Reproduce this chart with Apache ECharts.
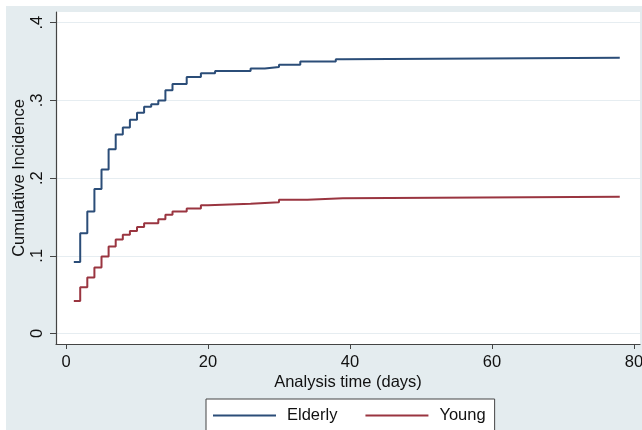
<!DOCTYPE html>
<html>
<head>
<meta charset="utf-8">
<script src="https://cdn.jsdelivr.net/npm/echarts@6/dist/echarts.min.js"></script>
<style>
html, body { margin: 0; padding: 0; background: #fff; }
#main { width: 642px; height: 430px; }
</style>
</head>
<body>
<div id="main"></div>
<script>
// step times (days) and cumulative incidence
var elderlyDays = [1.1, 2, 3, 4, 5, 6, 7, 8, 9, 10, 11, 12, 13, 14, 15, 17, 19, 21, 26, 28, 30, 33, 38, 39, 78];
var elderlyVals = [0.092, 0.129, 0.157, 0.186, 0.211, 0.237, 0.256, 0.265, 0.275, 0.284, 0.292, 0.295, 0.300, 0.313, 0.321, 0.330, 0.335, 0.338, 0.341, 0.343, 0.346, 0.350, 0.353, 0.355, 0.355];
var youngDays = [1.1, 2, 3, 4, 5, 6, 7, 8, 9, 10, 11, 13, 14, 15, 17, 19, 20, 26, 30, 34, 39, 78];
var youngVals = [0.042, 0.0595, 0.072, 0.085, 0.099, 0.112, 0.121, 0.127, 0.132, 0.137, 0.142, 0.147, 0.153, 0.157, 0.161, 0.165, 0.167, 0.169, 0.172, 0.174, 0.176, 0.176];
var xTicks = [0, 20, 40, 60, 80];
var yTicks = [0, 0.1, 0.2, 0.3, 0.4];
var seriesNames = ['Elderly', 'Young'];

function pairs(xs, ys) {
    return xs.map(function (x, i) { return [x, ys[i]]; });
}

var font = 'Liberation Sans, Arial, sans-serif';
var myChart = echarts.init(document.getElementById('main'));

var option = {
    backgroundColor: '#ffffff',
    animation: false,
    graphic: [{
        type: 'rect',
        z: -10,
        shape: { x: 6, y: 6, width: 640, height: 430 },
        style: { fill: '#e4ecef' }
    }],
    grid: {
        left: 56, right: 2, top: 12, bottom: 86,
        outerBoundsMode: 'none',
        containLabel: false,
        show: true, backgroundColor: '#ffffff', borderWidth: 0
    },
    legend: {
        data: seriesNames,
        left: 206, top: 399,
        orient: 'horizontal',
        icon: 'rect',
        itemWidth: 63, itemHeight: 2,
        itemGap: 28,
        padding: [8, 9, 10, 7],
        backgroundColor: '#ffffff',
        borderColor: '#444',
        borderWidth: 1,
        borderRadius: 0,
        textStyle: { fontFamily: font, fontSize: 16.5, color: '#111', padding: [0, 0, 0, 6] }
    },
    xAxis: {
        type: 'value',
        min: -1.41, max: 80.85,
        name: 'Analysis time (days)',
        nameLocation: 'middle',
        nameGap: 30,
        nameMoveOverlap: false,
        nameTextStyle: { fontFamily: font, fontSize: 16.5, color: '#111' },
        axisLine: { show: true, onZero: false, lineStyle: { color: '#444', width: 1.2 } },
        axisTick: { show: true, length: 5, customValues: xTicks, lineStyle: { color: '#444' } },
        axisLabel: { customValues: xTicks, margin: 10, fontFamily: font, fontSize: 16.5, color: '#111' },
        splitLine: { show: false }
    },
    yAxis: {
        type: 'value',
        min: -0.0135, max: 0.4138,
        name: 'Cumulative Incidence',
        nameLocation: 'middle',
        nameGap: 28,
        nameRotate: 90,
        nameMoveOverlap: false,
        nameTextStyle: { fontFamily: font, fontSize: 16.5, color: '#111' },
        axisLine: { show: true, onZero: false, lineStyle: { color: '#444', width: 1.2 } },
        axisTick: { show: true, length: 6, customValues: yTicks, lineStyle: { color: '#444' } },
        axisLabel: {
            customValues: yTicks, rotate: 90, margin: 10,
            fontFamily: font, fontSize: 16.5, color: '#111',
            formatter: function (v) {
                if (v === 0) return '0';
                return ('' + Math.round(v * 10) / 10).replace(/^0/, '');
            }
        },
        splitLine: { show: true, lineStyle: { color: '#e6edf1', width: 1.2 } }
    },
    series: [{
        name: seriesNames[0],
        type: 'line',
        step: 'end',
        symbol: 'none',
        data: pairs(elderlyDays, elderlyVals),
        lineStyle: { color: '#2b4d78', width: 2 },
        itemStyle: { color: '#2b4d78' }
    }, {
        name: seriesNames[1],
        type: 'line',
        step: 'end',
        symbol: 'none',
        data: pairs(youngDays, youngVals),
        lineStyle: { color: '#9a3540', width: 2 },
        itemStyle: { color: '#9a3540' }
    }]
};

myChart.setOption(option, true);
</script>
</body>
</html>
